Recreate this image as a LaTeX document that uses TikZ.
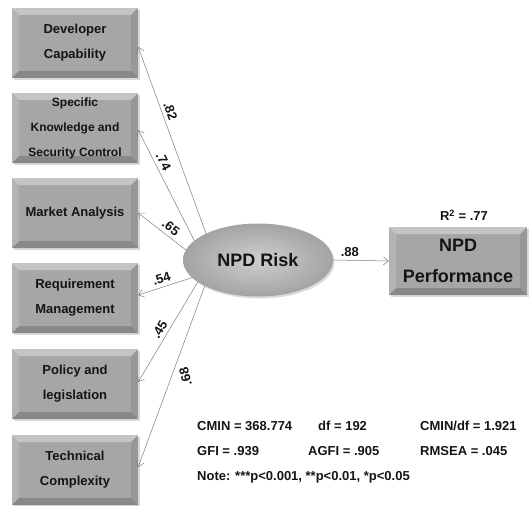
\documentclass[tikz,border=0pt]{standalone}
\usepackage{fontspec}
\setmainfont{Liberation Sans}
\usetikzlibrary{shadows,arrows.meta,shapes.geometric}
\definecolor{boxgray}{RGB}{166,166,166}
\definecolor{linegray}{RGB}{125,125,125}
\definecolor{txt}{RGB}{20,20,20}
\begin{document}
\begin{tikzpicture}[x=1pt,y=1pt,
  bevel/.style={path picture={
    \fill[white,opacity=.35] (path picture bounding box.north west) -- (path picture bounding box.north east) -- ([shift={(-7pt,-7pt)}]path picture bounding box.north east) -- ([shift={(7pt,-7pt)}]path picture bounding box.north west) -- cycle;
    \fill[white,opacity=.15] (path picture bounding box.north west) -- (path picture bounding box.south west) -- ([shift={(7pt,7pt)}]path picture bounding box.south west) -- ([shift={(7pt,-7pt)}]path picture bounding box.north west) -- cycle;
    \fill[black,opacity=.18] (path picture bounding box.south west) -- (path picture bounding box.south east) -- ([shift={(-7pt,7pt)}]path picture bounding box.south east) -- ([shift={(7pt,7pt)}]path picture bounding box.south west) -- cycle;
    \fill[black,opacity=.08] (path picture bounding box.north east) -- (path picture bounding box.south east) -- ([shift={(-7pt,7pt)}]path picture bounding box.south east) -- ([shift={(-7pt,-7pt)}]path picture bounding box.north east) -- cycle;
  }},
  leftbox/.style={rectangle, minimum width=126pt, minimum height=70pt, inner sep=0pt,
    align=center, fill=boxgray, text=txt, bevel,
    drop shadow={shadow xshift=1.5pt,shadow yshift=-2pt,opacity=.3},
    font=\bfseries\fontsize{13}{25}\selectfont},
  perfbox/.style={leftbox, minimum width=138pt, minimum height=68pt,
    font=\bfseries\fontsize{18}{31}\selectfont},
  riskell/.style={ellipse, minimum width=150pt, minimum height=73pt, inner sep=0pt,
    inner color=gray!38, outer color=gray!72, text=txt,
    drop shadow={shadow xshift=1.5pt,shadow yshift=-2pt,opacity=.3},
    font=\bfseries\fontsize{18}{22}\selectfont},
  link/.style={draw=linegray, line width=.5pt,
    -{Straight Barb[length=5pt,width=8pt,line width=.5pt]}},
  coef/.style={font=\bfseries\fontsize{13}{15}\selectfont, text=txt, inner sep=3.5pt},
  stat/.style={anchor=base west, font=\bfseries\fontsize{13}{15}\selectfont, text=txt, inner sep=0pt}
]
\useasboundingbox (0,0) rectangle (529,-505);

\node[leftbox] (b1) at (75,-43) {Developer\\Capability};
\node[leftbox, font=\bfseries\fontsize{12}{25}\selectfont] (b2) at (75,-128) {Specific\\Knowledge and\\Security Control};
\node[leftbox] (b3) at (75,-213) {Market Analysis};
\node[leftbox] (b4) at (75,-298) {Requirement\\Management};
\node[leftbox] (b5) at (75,-384) {Policy and\\legislation};
\node[leftbox] (b6) at (75,-470) {Technical\\Complexity};

\node[riskell] (risk) at (258,-260) {NPD Risk};
\node[perfbox] (perf) at (458,-261) {NPD\\Performance};

\node[coef, inner sep=0pt] (r2) at (464,-215) {R\textsuperscript{2} = .77};

\draw[link] (risk.153) -- ([yshift=-4pt]b1.east) node[coef, pos=.64, sloped, above] (c1) {.82};
\draw[link] (risk.163) -- ([yshift=-2pt]b2.east) node[coef, pos=.68, sloped, above] (c2) {.74};
\draw[link] (risk.172) -- (b3.east) node[coef, pos=.42, sloped, above] (c3) {.65};
\draw[link] (risk.195) -- ([yshift=3pt]b4.east) node[coef, pos=.52, sloped, above] (c4) {.54};
\draw[link] (risk.200) -- ([yshift=2pt]b5.east) node[coef, pos=.52, sloped, above] (c5) {.45};
\draw[link] (risk.206) -- ([yshift=3pt]b6.east) node[coef, pos=.5, xshift=14pt, rotate=105] (c6) {.68};
\draw[link] (risk.east) -- (perf.west) node[coef, pos=.3, above] (c7) {.88};

\node[stat] (s1) at (197,-430) {CMIN = 368.774};
\node[stat] (s2) at (318,-430) {df = 192};
\node[stat] (s3) at (420,-430) {CMIN/df = 1.921};
\node[stat] (s4) at (197,-455) {GFI = .939};
\node[stat] (s5) at (308,-455) {AGFI = .905};
\node[stat] (s6) at (420,-455) {RMSEA = .045};
\node[stat] (s7) at (197,-480) {Note: ***p<0.001, **p<0.01, *p<0.05};
\end{tikzpicture}
\end{document}
